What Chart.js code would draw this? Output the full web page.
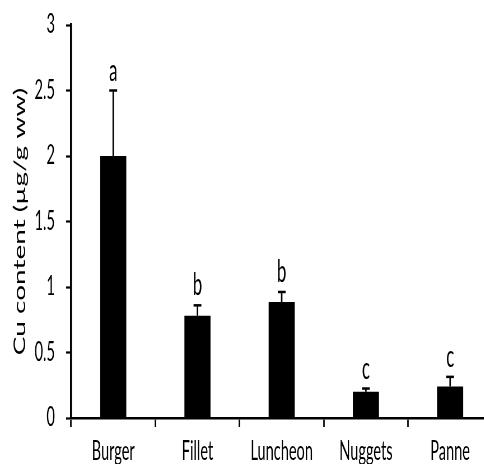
<!DOCTYPE html>
<html>
<head>
<meta charset="utf-8">
<title>Cu content</title>
<script src="https://cdn.jsdelivr.net/npm/chart.js@4/dist/chart.umd.min.js"></script>
<style>
    html, body { margin: 0; padding: 0; background: #fff; overflow: hidden; }
    /* the original figure is squeezed sideways, so draw wide and squeeze */
    #wrap {
        width: 890px;
        height: 464px;
        transform: scaleX(0.56);
        transform-origin: 0 0;
    }
</style>
</head>
<body>
<div id="wrap"><canvas id="cuChart" width="890" height="464"></canvas></div>
<script>
// ============================================
// DATA
// ============================================
const categories = ['Burger', 'Fillet', 'Luncheon', 'Nuggets', 'Panne'];
const cuMeans = [2.0, 0.78, 0.885, 0.20, 0.24];
const cuErrors = [0.5, 0.08, 0.077, 0.025, 0.074];
const groupLetters = ['a', 'b', 'b', 'c', 'c'];
const yTickStep = 0.5;
const yMax = 3;

const FONT = 'Lato, "Open Sans", sans-serif';

// error bars (upper only) and significance letters
const errorBarPlugin = {
    id: 'errorBars',
    afterDatasetsDraw(chart) {
        const ctx = chart.ctx;
        const yScale = chart.scales.y;
        const meta = chart.getDatasetMeta(0);

        ctx.save();
        ctx.strokeStyle = '#000';
        ctx.fillStyle = '#000';
        meta.data.forEach((bar, i) => {
            const yTop = yScale.getPixelForValue(cuMeans[i] + cuErrors[i]);
            const yBase = yScale.getPixelForValue(cuMeans[i]);

            ctx.lineWidth = 2.7;
            ctx.beginPath();
            ctx.moveTo(bar.x, yBase);
            ctx.lineTo(bar.x, yTop);
            ctx.stroke();

            ctx.lineWidth = 2.5;
            ctx.beginPath();
            ctx.moveTo(bar.x - 7, yTop);
            ctx.lineTo(bar.x + 7, yTop);
            ctx.stroke();

            ctx.font = '30px ' + FONT;
            ctx.textAlign = 'center';
            ctx.textBaseline = 'alphabetic';
            ctx.fillText(groupLetters[i], bar.x, yTop - 10);
        });
        ctx.restore();
    }
};

const ctx = document.getElementById('cuChart');

new Chart(ctx, {
    type: 'bar',
    data: {
        labels: categories,
        datasets: [{
            data: cuMeans,
            backgroundColor: '#000',
            borderWidth: 0,
            categoryPercentage: 1,
            barPercentage: 0.31
        }]
    },
    options: {
        responsive: false,
        animation: false,
        layout: {
            padding: { top: 25, right: 11, bottom: 0, left: 0 }
        },
        plugins: {
            legend: { display: false },
            tooltip: { enabled: false }
        },
        scales: {
            x: {
                grid: {
                    drawOnChartArea: false,
                    drawTicks: true,
                    tickLength: 9,
                    tickColor: '#000',
                    tickWidth: 2.7
                },
                border: { color: '#000', width: 2.5 },
                ticks: {
                    color: '#000',
                    padding: 9,
                    maxRotation: 0,
                    font: { family: FONT, size: 26 }
                },
                afterFit(scale) {
                    scale.height = 46;
                    scale.paddingLeft = 0;
                    scale.paddingRight = 0;
                }
            },
            y: {
                min: 0,
                max: yMax,
                grid: {
                    drawOnChartArea: false,
                    drawTicks: true,
                    tickLength: 9,
                    tickColor: '#000',
                    tickWidth: 2.2
                },
                border: { color: '#000', width: 3.5 },
                ticks: {
                    stepSize: yTickStep,
                    color: '#000',
                    padding: 20,
                    font: { family: FONT, size: 26 },
                    callback: function(value) {
                        return String(value);
                    }
                },
                title: {
                    display: true,
                    text: 'Cu content (µg/g ww)',
                    color: '#000',
                    padding: { top: 19, bottom: 0 },
                    font: { family: FONT, size: 28 }
                },
                afterFit(scale) {
                    scale.width = 127;
                    scale.paddingTop = 0;
                    scale.paddingBottom = 0;
                }
            }
        }
    },
    plugins: [errorBarPlugin]
});
</script>
</body>
</html>
